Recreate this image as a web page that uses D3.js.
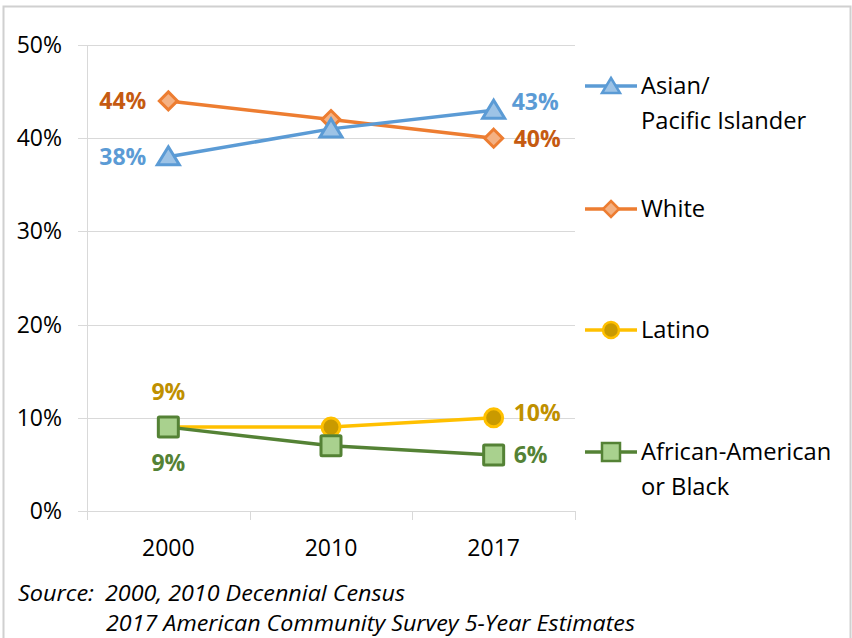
<!DOCTYPE html>
<html>
<head>
<meta charset="utf-8">
<script src="https://cdn.jsdelivr.net/npm/d3@7"></script>
<style>
  body { margin: 0; background: #fff; }
  svg text { font-family: "Open Sans", "Noto Sans", sans-serif; }
</style>
</head>
<body>
<div id="chart"></div>
<script>
// data
var years    = ["2000", "2010", "2017"];
var asian    = [38, 41, 43];
var white    = [44, 42, 40];
var latino   = [9, 9, 10];
var black    = [9, 7, 6];
var yTicks   = [0, 10, 20, 30, 40, 50];
var seriesNames = ["Asian/|Pacific Islander", "White", "Latino", "African-American|or Black"];

var width = 852, height = 638;
var svg = d3.select("#chart").append("svg")
    .attr("width", width).attr("height", height);

// outer border
svg.append("rect").attr("x", 3.5).attr("y", 6.5)
    .attr("width", 847).attr("height", 640)
    .attr("fill", "none").attr("stroke", "#d0d0d0").attr("stroke-width", 2);

var x = d3.scaleBand().domain(years).range([87, 575]);
var y = d3.scaleLinear().domain([0, 50]).range([511, 45]);

var grid = "#d9d9d9";

// gridlines (extend left of axis like tick marks)
svg.selectAll(".grid").data(yTicks).enter().append("line")
    .attr("x1", 78).attr("x2", 575)
    .attr("y1", function(d){ return Math.round(y(d)) + 0.5; })
    .attr("y2", function(d){ return Math.round(y(d)) + 0.5; })
    .attr("stroke", grid).attr("stroke-width", 1);

// vertical axis line
svg.append("line").attr("x1", 87.5).attr("x2", 87.5)
    .attr("y1", y(50)).attr("y2", 520)
    .attr("stroke", grid);

// category boundary ticks
var bounds = years.map(function(d){ return x(d) + x.bandwidth(); });
svg.selectAll(".xtick").data(bounds).enter().append("line")
    .attr("x1", function(d){ return Math.round(d) + 0.5; })
    .attr("x2", function(d){ return Math.round(d) + 0.5; })
    .attr("y1", y(0)).attr("y2", 520)
    .attr("stroke", grid);

// y labels
svg.selectAll(".ylab").data(yTicks).enter().append("text")
    .attr("x", 62).attr("y", function(d){ return y(d); })
    .attr("dy", "0.35em").attr("text-anchor", "end")
    .attr("font-size", 23).attr("fill", "#000")
    .text(function(d){ return d + "%"; });

// x labels
svg.selectAll(".xlab").data(years).enter().append("text")
    .attr("x", function(d){ return x(d) + x.bandwidth()/2; })
    .attr("y", 556).attr("text-anchor", "middle")
    .attr("font-size", 23).attr("fill", "#000")
    .text(function(d){ return d; });

var series = [
  {name: seriesNames[0], values: asian,  line: "#5B9BD5", fill: "#9DC3E6", lab: "#5B9BD5", shape: "tri"},
  {name: seriesNames[1], values: white,  line: "#ED7D31", fill: "#F4B183", lab: "#C55A11", shape: "dia"},
  {name: seriesNames[2], values: latino, line: "#FFC000", fill: "#C99A00", lab: "#BF9000", shape: "circ"},
  {name: seriesNames[3], values: black,  line: "#548235", fill: "#A9D18E", lab: "#548235", shape: "sq"}
];

var cx = function(i){ return x(years[i]) + x.bandwidth()/2; };

function marker(g, shape, s, px, py){
  var m;
  if(shape === "tri"){
    m = g.append("path").attr("d", "M0,-10L11,8L-11,8Z");
  } else if(shape === "dia"){
    m = g.append("path").attr("d", "M0,-9L9,0L0,9L-9,0Z");
  } else if(shape === "circ"){
    m = g.append("circle").attr("r", 9);
  } else {
    m = g.append("rect").attr("x", -10).attr("y", -10).attr("width", 20).attr("height", 20).attr("rx", 1);
  }
  m.attr("transform", "translate(" + px + "," + py + ")")
   .attr("fill", s.fill).attr("stroke", s.line).attr("stroke-width", 3);
}

var lineGen = d3.line().x(function(d, i){ return cx(i); }).y(function(d){ return y(d); });

// latino and black first, then white, then asian on top
[2, 3, 1, 0].forEach(function(k){
  var s = series[k];
  var g = svg.append("g");
  g.append("path").datum(s.values).attr("d", lineGen)
    .attr("fill", "none").attr("stroke", s.line).attr("stroke-width", 3.5);
  s.values.forEach(function(v, i){ marker(g, s.shape, s, cx(i), y(v)); });
});

// data labels
var labels = [
  {s: 0, i: 0, dx: -22, dy: 0, anchor: "end"},
  {s: 0, i: 2, dx: 18, dy: -8, anchor: "start"},
  {s: 1, i: 0, dx: -22, dy: 0, anchor: "end"},
  {s: 1, i: 2, dx: 20, dy: 1, anchor: "start"},
  {s: 2, i: 0, dx: 0, dy: -35, anchor: "middle"},
  {s: 2, i: 2, dx: 20, dy: -5, anchor: "start"},
  {s: 3, i: 0, dx: 0, dy: 36, anchor: "middle"},
  {s: 3, i: 2, dx: 20, dy: 0, anchor: "start"}
];
svg.selectAll(".dlab").data(labels).enter().append("text")
  .attr("x", function(d){ return cx(d.i) + d.dx; })
  .attr("y", function(d){ return y(series[d.s].values[d.i]) + d.dy; })
  .attr("dy", "0.35em").attr("text-anchor", function(d){ return d.anchor; })
  .attr("font-size", 23).attr("font-weight", "bold")
  .attr("fill", function(d){ return series[d.s].lab; })
  .text(function(d){ return series[d.s].values[d.i] + "%"; });

// legend
var legY = [86, 209, 330, 452];
series.forEach(function(s, k){
  var g = svg.append("g");
  var ly = legY[k];
  g.append("line").attr("x1", 585).attr("x2", 637).attr("y1", ly).attr("y2", ly)
    .attr("stroke", s.line).attr("stroke-width", 3.5);
  var ms = s.shape;
  var m;
  if(ms === "tri") m = g.append("path").attr("d", "M0,-8L9,7L-9,7Z");
  else if(ms === "dia") m = g.append("path").attr("d", "M0,-8L8,0L0,8L-8,0Z");
  else if(ms === "circ") m = g.append("circle").attr("r", 8);
  else m = g.append("rect").attr("x", -9).attr("y", -9).attr("width", 18).attr("height", 18);
  m.attr("transform", "translate(611," + ly + ")")
   .attr("fill", s.fill).attr("stroke", s.line).attr("stroke-width", 2.5);
  var parts = s.name.split("|");
  var t = g.append("text").attr("x", 641).attr("y", ly)
    .attr("font-size", 23.7).attr("fill", "#000");
  parts.forEach(function(p, j){
    t.append("tspan").attr("x", 641).attr("dy", j === 0 ? "0.35em" : "1.45em").text(p);
  });
});

// source note
var note = svg.append("g").attr("font-size", 22).attr("font-style", "italic").attr("fill", "#000");
note.append("text").attr("x", 18).attr("y", 601)
  .attr("textLength", 76).attr("lengthAdjust", "spacingAndGlyphs").text("Source:");
note.append("text").attr("x", 105).attr("y", 601)
  .attr("textLength", 300).attr("lengthAdjust", "spacingAndGlyphs").text("2000, 2010 Decennial Census");
note.append("text").attr("x", 106).attr("y", 631)
  .attr("textLength", 529).attr("lengthAdjust", "spacingAndGlyphs").text("2017 American Community Survey 5-Year Estimates");
</script>
</body>
</html>
